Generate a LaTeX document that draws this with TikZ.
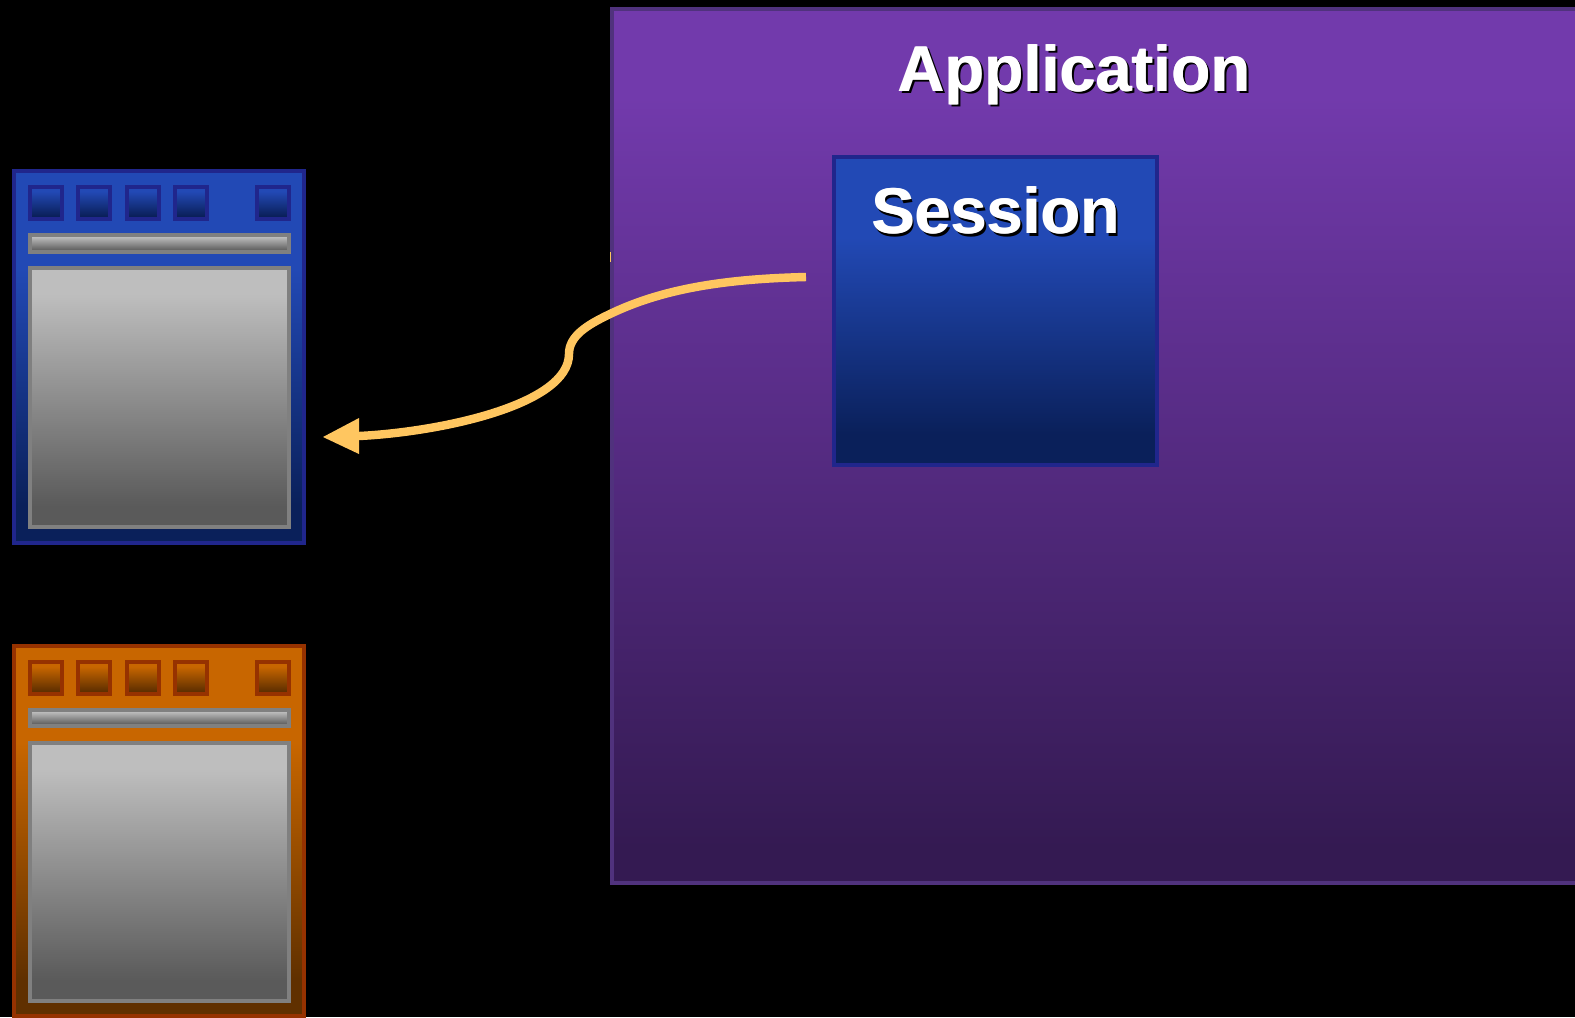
\documentclass[tikz,border=0pt]{standalone}
\usepackage{fontspec}
\setmainfont{Liberation Sans}
\definecolor{bluetop}{RGB}{34,73,181}
\definecolor{bluebot}{RGB}{10,32,90}
\definecolor{blueedge}{RGB}{32,38,140}
\definecolor{orangetop}{RGB}{200,102,0}
\definecolor{orangebot}{RGB}{96,48,0}
\definecolor{orangeedge}{RGB}{150,50,0}
\definecolor{greytop}{RGB}{190,190,190}
\definecolor{greybot}{RGB}{90,90,90}
\definecolor{greyedge}{RGB}{128,128,128}
\definecolor{purpletop}{RGB}{114,58,172}
\definecolor{purplebot}{RGB}{52,26,82}
\definecolor{purpleedge}{RGB}{80,50,125}
\definecolor{wirecol}{RGB}{255,198,96}
\pgfdeclareverticalshading{bluefade}{100bp}{color(0bp)=(bluebot); color(30bp)=(bluebot); color(62bp)=(bluetop); color(100bp)=(bluetop)}
\pgfdeclareverticalshading{orangefade}{100bp}{color(0bp)=(orangebot); color(30bp)=(orangebot); color(62bp)=(orangetop); color(100bp)=(orangetop)}
\pgfdeclareverticalshading{purplefade}{100bp}{color(0bp)=(purplebot); color(27bp)=(purplebot); color(70bp)=(purpletop); color(100bp)=(purpletop)}
\pgfdeclareverticalshading{greyfade}{100bp}{color(0bp)=(greybot); color(29bp)=(greybot); color(70bp)=(greytop); color(100bp)=(greytop)}
\pgfdeclareverticalshading{keyblue}{100bp}{color(0bp)=(bluebot); color(30bp)=(bluebot); color(68bp)=(bluetop); color(100bp)=(bluetop)}
\pgfdeclareverticalshading{keyorange}{100bp}{color(0bp)=(orangebot); color(30bp)=(orangebot); color(68bp)=(orangetop); color(100bp)=(orangetop)}
\tikzset{
  appbox/.style={draw=purpleedge, line width=1.1pt, shading=purplefade},
  sessbox/.style={draw=blueedge, line width=1.1pt, shading=bluefade},
  bluecase/.style={draw=blueedge, line width=1.1pt, shading=bluefade},
  orangecase/.style={draw=orangeedge, line width=1.1pt, shading=orangefade},
  bluekey/.style={draw=blueedge, line width=1.1pt, shading=keyblue},
  orangekey/.style={draw=orangeedge, line width=1.1pt, shading=keyorange},
  screen/.style={draw=greyedge, line width=1.1pt, shading=greyfade},
  wire/.style={draw=wirecol, line width=2.4pt},
  title/.style={text=white, font=\bfseries\fontsize{18.4pt}{18.4pt}\selectfont, inner sep=0pt, anchor=base},
  shadow/.style={text=black, font=\bfseries\fontsize{18.4pt}{18.4pt}\selectfont, inner sep=0pt, anchor=base}
}
\begin{document}
\begin{tikzpicture}[x=0.01cm, y=-0.01cm]
\useasboundingbox[fill=black] (0,0) rectangle (1575,1017);
\path[clip] (0,0) rectangle (1575,1017);

% application
\draw[appbox] (612,9) rectangle (1600,883);
\fill[wirecol] (610,252) rectangle (611,262);
\node[shadow] (appshadow) at (1076.5,93.5) {Application};
\node[title] (appthick) at (1074.6,91) {Application};
\node[title] (apptitle) at (1074,91) {Application};

% session
\draw[sessbox] (834,157) rectangle (1157,465);
\node[shadow] (sessshadow) at (998,236) {Session};
\node[title] (sessthick) at (996.1,233.5) {Session};
\node[title] (sesstitle) at (995.5,233.5) {Session};

% blue device
\draw[bluecase] (14,171) rectangle (304,543);
\foreach \x in {30,78,127,175,257}
  \draw[bluekey] (\x,187) rectangle ++(32,32);
\draw[screen] (30,235) rectangle (289,252);
\draw[screen] (30,268) rectangle (289,527);

% orange device
\draw[orangecase] (14,646) rectangle (304,1016);
\foreach \x in {30,78,127,175,257}
  \draw[orangekey] (\x,662) rectangle ++(32,32);
\draw[screen] (30,710) rectangle (289,726);
\draw[screen] (30,743) rectangle (289,1001);

% call
\coordinate (sessout) at (806,277);
\coordinate (mid) at (610,314);
\coordinate (bend) at (569,354);
\coordinate (devin) at (359,436);
\coordinate (tip) at (323,437);
\draw[wire] (sessout) .. controls (720,279) and (660,290) .. (mid) .. controls (587,325) and (569,336) .. (bend) .. controls (569,405) and (440,432) .. (devin);
\fill[wirecol] (tip) -- (359,418) -- (359,454) -- cycle;
\end{tikzpicture}
\end{document}
